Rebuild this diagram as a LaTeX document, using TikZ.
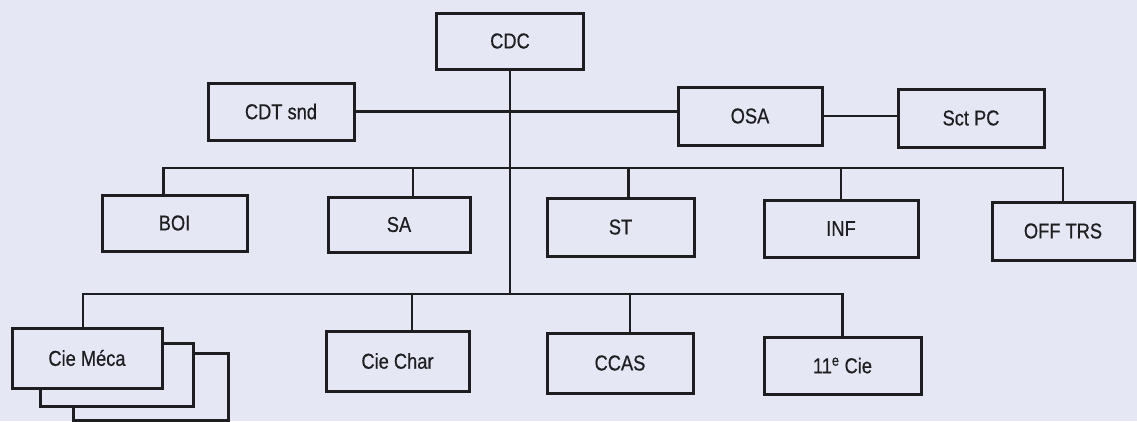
\documentclass[tikz,border=0pt]{standalone}
\usepackage{fontspec}
\setmainfont{Liberation Sans}[FakeStretch=0.85,FakeBold=0.6]
\usetikzlibrary{positioning,calc}
\definecolor{paper}{RGB}{229,232,244}
\definecolor{ink}{RGB}{30,30,32}
\tikzset{
box/.style 2 args={draw=ink,fill=paper,line width=3pt,minimum width=#1,minimum height=#2,inner sep=0pt,font=\fontsize{21.5}{24}\selectfont,text=ink},
line/.style={-,draw=ink,line width=2.8pt},
}

\begin{document}
\begin{tikzpicture}[x=1pt,y=-1pt]
  \fill[paper] (0,0) rectangle (1137,421);
  \useasboundingbox (0,0) rectangle (1137,421);
  \coordinate (midbus) at (0,168);
  \coordinate (lowbus) at (0,294);
  % the stack behind Cie Meca
  \draw foreach \n/\x/\y/\w/\h in {meca3/150.5/386.5/155/67,meca2/116.5/374.5/153/63}
  {(\x,\y) node[box={\w pt}{\h pt}] (\n) {}};
  \draw foreach \n/\x/\y/\w/\h/\t in {cdc/510/41/147/56/CDC,cdt/281/111.5/146/57/CDT snd,
    osa/750/116/144/58/OSA,sct/971/118/146/58/Sct PC,
    boi/174.5/223/145/56/BOI,sa/399/224.5/142/55/SA,st/620.5/227/147/58/ST,
    inf/841/228.5/154/57/INF,off/1063/231/142/58/OFF TRS,
    meca/87/358/150/60/Cie Méca,char/397.5/361/143/60/Cie Char,
    ccas/620/363/146/60/CCAS,cie11/842.5/365.5/157/57/11\textsuperscript{e} Cie}
  {(\x,\y) node[box={\w pt}{\h pt}] (\n) {\t}};
  % links
  \draw[line] (cdc.south) -- (cdc.south |- lowbus);
  \draw[line] (cdt.east) -- (cdt.east -| osa.west);
  \draw[line] (osa.east) -- (osa.east -| sct.west);
  \draw[line] ([xshift=-11pt]boi.north) |- (off.north |- midbus) -- (off.north);
  \draw[line] foreach \n/\s in {sa/14,st/8,inf/0}
  {([xshift=\s pt]\n.north) -- ([xshift=\s pt]\n.north |- midbus)};
  \draw[line] ([xshift=-4pt]meca.north) |- (cie11.north |- lowbus) -- (cie11.north);
  \draw[line] foreach \n/\s in {char/14.5,ccas/10}
  {([xshift=\s pt]\n.north) -- ([xshift=\s pt]\n.north |- lowbus)};
\end{tikzpicture}
\end{document}
